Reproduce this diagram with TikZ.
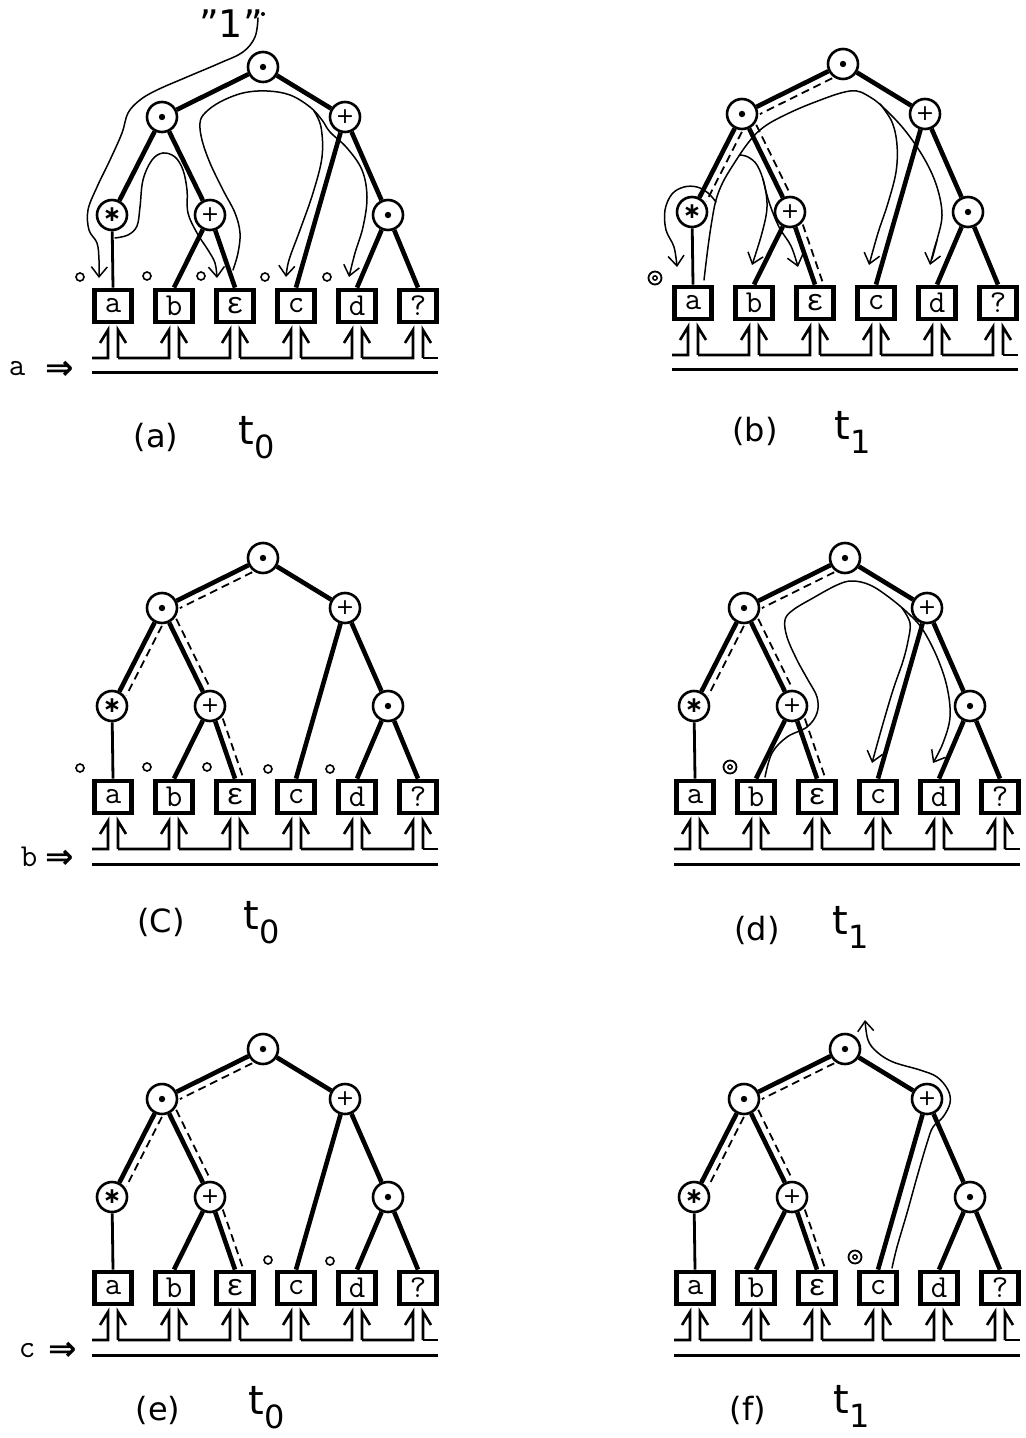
\documentclass[tikz,border=0pt]{standalone}
\usepackage{fontspec}
\setmainfont{DejaVu Sans}
\newfontfamily\grk{Liberation Mono}
\usetikzlibrary{arrows.meta,calc}
\tikzset{
  opnode/.style={circle,draw,line width=1.3pt,minimum size=15pt,inner sep=0pt,fill=white,font=\fontsize{11}{11}\selectfont},
  dotn/.style={path picture={\fill[black] (path picture bounding box.center) circle (1.6pt);}},
  leaf/.style={rectangle,draw,line width=2.4pt,minimum width=18.5pt,minimum height=16pt,inner sep=0pt,fill=white,font=\ttfamily\fontsize{16}{16}\selectfont},
  tedge/.style={line width=2.3pt},
  sedge/.style={line width=1.4pt},
  dsh/.style={line width=0.9pt,dash pattern=on 4pt off 2.5pt},
  tube/.style={line width=0.75pt,line cap=round,line join=round},
  tubearr/.style={tube,-{Straight Barb[length=5pt,width=8pt,line width=0.75pt]}},
  bus/.style={line width=1.3pt},
  busb/.style={line width=1.5pt},
  omark/.style={circle,draw,line width=0.8pt,minimum size=4pt,inner sep=0pt},
  dmark/.style={circle,draw,line width=0.9pt,minimum size=6.5pt,inner sep=0pt,path picture={\draw[black,line width=0.7pt] (path picture bounding box.center) circle (1.1pt);}},
  captxt/.style={font=\fontsize{16}{16}\selectfont},
  tsym/.style={font=\fontsize{20}{20}\selectfont},
  sidetxt/.style={font=\ttfamily\fontsize{16}{16}\selectfont},
  sidearr/.style={font=\bfseries\fontsize{17}{17}\selectfont},
}
\newcommand\epsch{{\grk\fontsize{15}{15}\selectfont ε}}
\newcommand\astch{{\fontsize{11}{11}\selectfont\bfseries ∗}}
\newcommand\basetree{%
  \node[opnode,dotn] (R) at (263,67) {};
  \node[opnode,dotn] (L) at (162,117) {};
  \node[opnode] (P) at (345,117) {+};
  \node[opnode] (S) at (112,215) {\astch};
  \node[opnode] (Q) at (210,215) {+};
  \node[opnode,dotn] (D) at (388,215) {};
  \node[leaf] (a) at (113,306) {a};
  \node[leaf] (b) at (174,306) {b};
  \node[leaf] (e) at (235,306) {\epsch};
  \node[leaf] (c) at (296,306) {c};
  \node[leaf] (d) at (357,306) {d};
  \node[leaf] (q) at (418,306) {?};
  \draw[tedge] (R) -- (L);
  \draw[tedge] (R) -- (P);
  \draw[tedge] (L) -- (S);
  \draw[tedge] (L) -- (Q);
  \draw[tedge] (P) -- (c.north);
  \draw[tedge] (P) -- (D);
  \draw[tedge] (Q) -- (b.north);
  \draw[tedge] (Q) -- (e.north);
  \draw[tedge] (D) -- (d.north);
  \draw[tedge] (D) -- (q.north);
  \draw[sedge] (S) -- (a.north);
  \foreach \i in {0,...,5}{%
    \pgfmathsetmacro\xl{108+61*\i}%
    \pgfmathsetmacro\xr{118+61*\i}%
    \pgfmathsetmacro\xp{\i==0 ? 92 : 57+61*\i}%
    \draw[bus] (\xp,358) -- (\xl,358) -- (\xl,330) -- (\xl-8,343);
    \draw[bus] (\xr+8,343) -- (\xr,330) -- (\xr,358);
  }
  \draw[bus] (423,358) -- (438,358);
  \draw[busb] (92,373) -- (438,373);
}
\newcommand\dpar[2]{\draw[dsh] ($(#1)!8pt!(#2)!4pt!90:(#2)$) -- ($(#2)!8pt!(#1)!4pt!-90:(#1)$);}
\newcommand\dashset{%
  \dpar{R}{L}\dpar{L}{S}\dpar{L}{Q}%
  \draw[dsh] ($(Q)!8pt!(e.north)!4pt!90:(e.north)$) -- ($(e.north)!0pt!(Q)!4pt!-90:(Q)$);}
\newcommand\tsub[1]{t\raisebox{-0.35em}{\fontsize{16}{16}\selectfont #1}}
\begin{document}
\begin{tikzpicture}[x=0.5pt,y=-0.5pt]
\useasboundingbox (0,0) rectangle (1025,1438);
\fill[white] (0,0) rectangle (1025,1438);

% ---------- (a)
\begin{scope}[name prefix=a-]
  \basetree
  \foreach \x/\y [count=\k] in {80/277,147/276,201/276,265/277,327/277}
    \node[omark] (o\k) at (\x,\y) {};
  \node[font=\fontsize{19}{19}\selectfont] (one) at (231,24) {\char34 1\char34};
  \node[circle,fill,inner sep=0pt,minimum size=2pt] (dt) at (263,14) {};
  \draw[tubearr] plot[smooth,tension=0.6] coordinates {(258,18) (255,37) (243,52) (220,63) (187,77) (157,90) (140,100) (128,113) (122,133) (110,160) (97,187) (88,210) (89,230) (97,243) (99,260) (99,278)};
  \draw[tubearr] plot[smooth,tension=0.6] coordinates {(115,238) (128,235) (137,226) (140,207) (143,180) (152,160) (163,153) (175,157) (183,170) (187,190) (188,213) (197,233) (208,250) (215,263) (217,278)};
  \draw[tubearr] plot[smooth,tension=0.6] coordinates {(233,270) (238,253) (240,233) (235,213) (223,190) (210,163) (202,140) (200,123) (205,113) (220,102) (243,93) (267,91) (290,95) (310,107) (322,120) (330,132) (347,148) (362,170) (367,197) (363,227) (355,253) (349,277)};
  \draw[tubearr] plot[smooth,tension=0.6] coordinates {(314,111) (321,127) (322,157) (313,193) (300,230) (289,260) (286,277)};
  \node[sidetxt] (sa) at (17,369) {a};
  \node[sidearr] (sar) at (60,370) {⇒};
\end{scope}
\node[captxt] (capa) at (156,437) {(a)};
\node[tsym] (ta) at (257,438) {\tsub{0}};

% ---------- (b)
\begin{scope}[shift={(580,-3)},name prefix=b-]
  \basetree
  \dashset
  \node[dmark] (m) at (75,281) {};
  \draw[tube] plot[smooth,tension=0.6] coordinates {(124,283) (128,250) (132,223) (136,203) (143,185) (155,165) (168,146) (180,133) (197,122) (230,107) (270,94) (290,100) (308,115) (327,136) (345,163) (357,190) (362,218) (357,243) (352,262)};
  \draw[tubearr] (357,243) .. controls (354,252) .. (350,268);
  \draw[tubearr] plot[smooth,tension=0.6] coordinates {(300,107) (312,125) (317,148) (316,175) (308,206) (298,236) (289,268)};
  \draw[tubearr] plot[smooth,tension=0.6] coordinates {(136,205) (128,196) (117,190) (104,190) (92,197) (85,213) (86,233) (94,250) (97,270)};
  \draw[tubearr] plot[smooth,tension=0.6] coordinates {(160,158) (168,160) (177,168) (184,186) (187,210) (182,236) (172,268)};
  \draw[tubearr] plot[smooth,tension=0.6] coordinates {(183,182) (189,205) (199,230) (211,249) (218,270)};
\end{scope}
\node[captxt] (capb) at (755,431) {(b)};
\node[tsym] (tb) at (853,432) {\tsub{1}};

% ---------- (c)
\begin{scope}[shift={(0,491)},name prefix=c-]
  \basetree
  \dashset
  \foreach \x/\y [count=\k] in {80/277,147/276,207/276,268/278,330/278}
    \node[omark] (o\k) at (\x,\y) {};
  \node[sidetxt] (sb) at (29,366) {b};
  \node[sidearr] (sbr) at (60,368) {⇒};
\end{scope}
\node[captxt] (capc) at (161,922) {(C)};
\node[tsym] (tc) at (262,923) {\tsub{0}};

% ---------- (d)
\begin{scope}[shift={(582,491)},name prefix=d-]
  \basetree
  \dashset
  \node[dmark] (m) at (148,276) {};
  \draw[tubearr] plot[smooth,tension=0.6] coordinates {(183,286) (190,262) (205,246) (225,236) (235,222) (235,206) (226,189) (215,169) (205,146) (203,129) (211,119) (231,107) (255,94) (270,90) (288,94) (308,107) (328,124) (341,139) (355,166) (365,196) (368,226) (361,252) (351,272)};
  \draw[tubearr] plot[smooth,tension=0.6] coordinates {(320,117) (328,132) (326,150) (321,170) (311,199) (300,236) (290,272)};
\end{scope}
\node[captxt] (capd) at (757,930) {(d)};
\node[tsym] (td) at (851,927) {\tsub{1}};

% ---------- (e)
\begin{scope}[shift={(0,982)},name prefix=e-]
  \basetree
  \dashset
  \foreach \x/\y [count=\k] in {268/278,330/279}
    \node[omark] (o\k) at (\x,\y) {};
  \node[sidetxt] (sc) at (27,369) {c};
  \node[sidearr] (scr) at (63,369) {⇒};
\end{scope}
\node[captxt] (cape) at (158,1410) {(e)};
\node[tsym] (te) at (267,1408) {\tsub{0}};

% ---------- (f)
\begin{scope}[shift={(582,982)},name prefix=f-]
  \basetree
  \dashset
  \node[dmark] (m) at (273,275) {};
  \draw[tubearr] plot[smooth,tension=0.6] coordinates {(310,286) (315,265) (325,231) (335,195) (345,161) (351,145) (361,135) (368,121) (366,108) (355,95) (338,88) (311,80) (295,70) (286,58) (283,38)};
\end{scope}
\node[captxt] (capf) at (748,1410) {(f)};
\node[tsym] (tf) at (852,1406) {\tsub{1}};
\end{tikzpicture}
\end{document}
